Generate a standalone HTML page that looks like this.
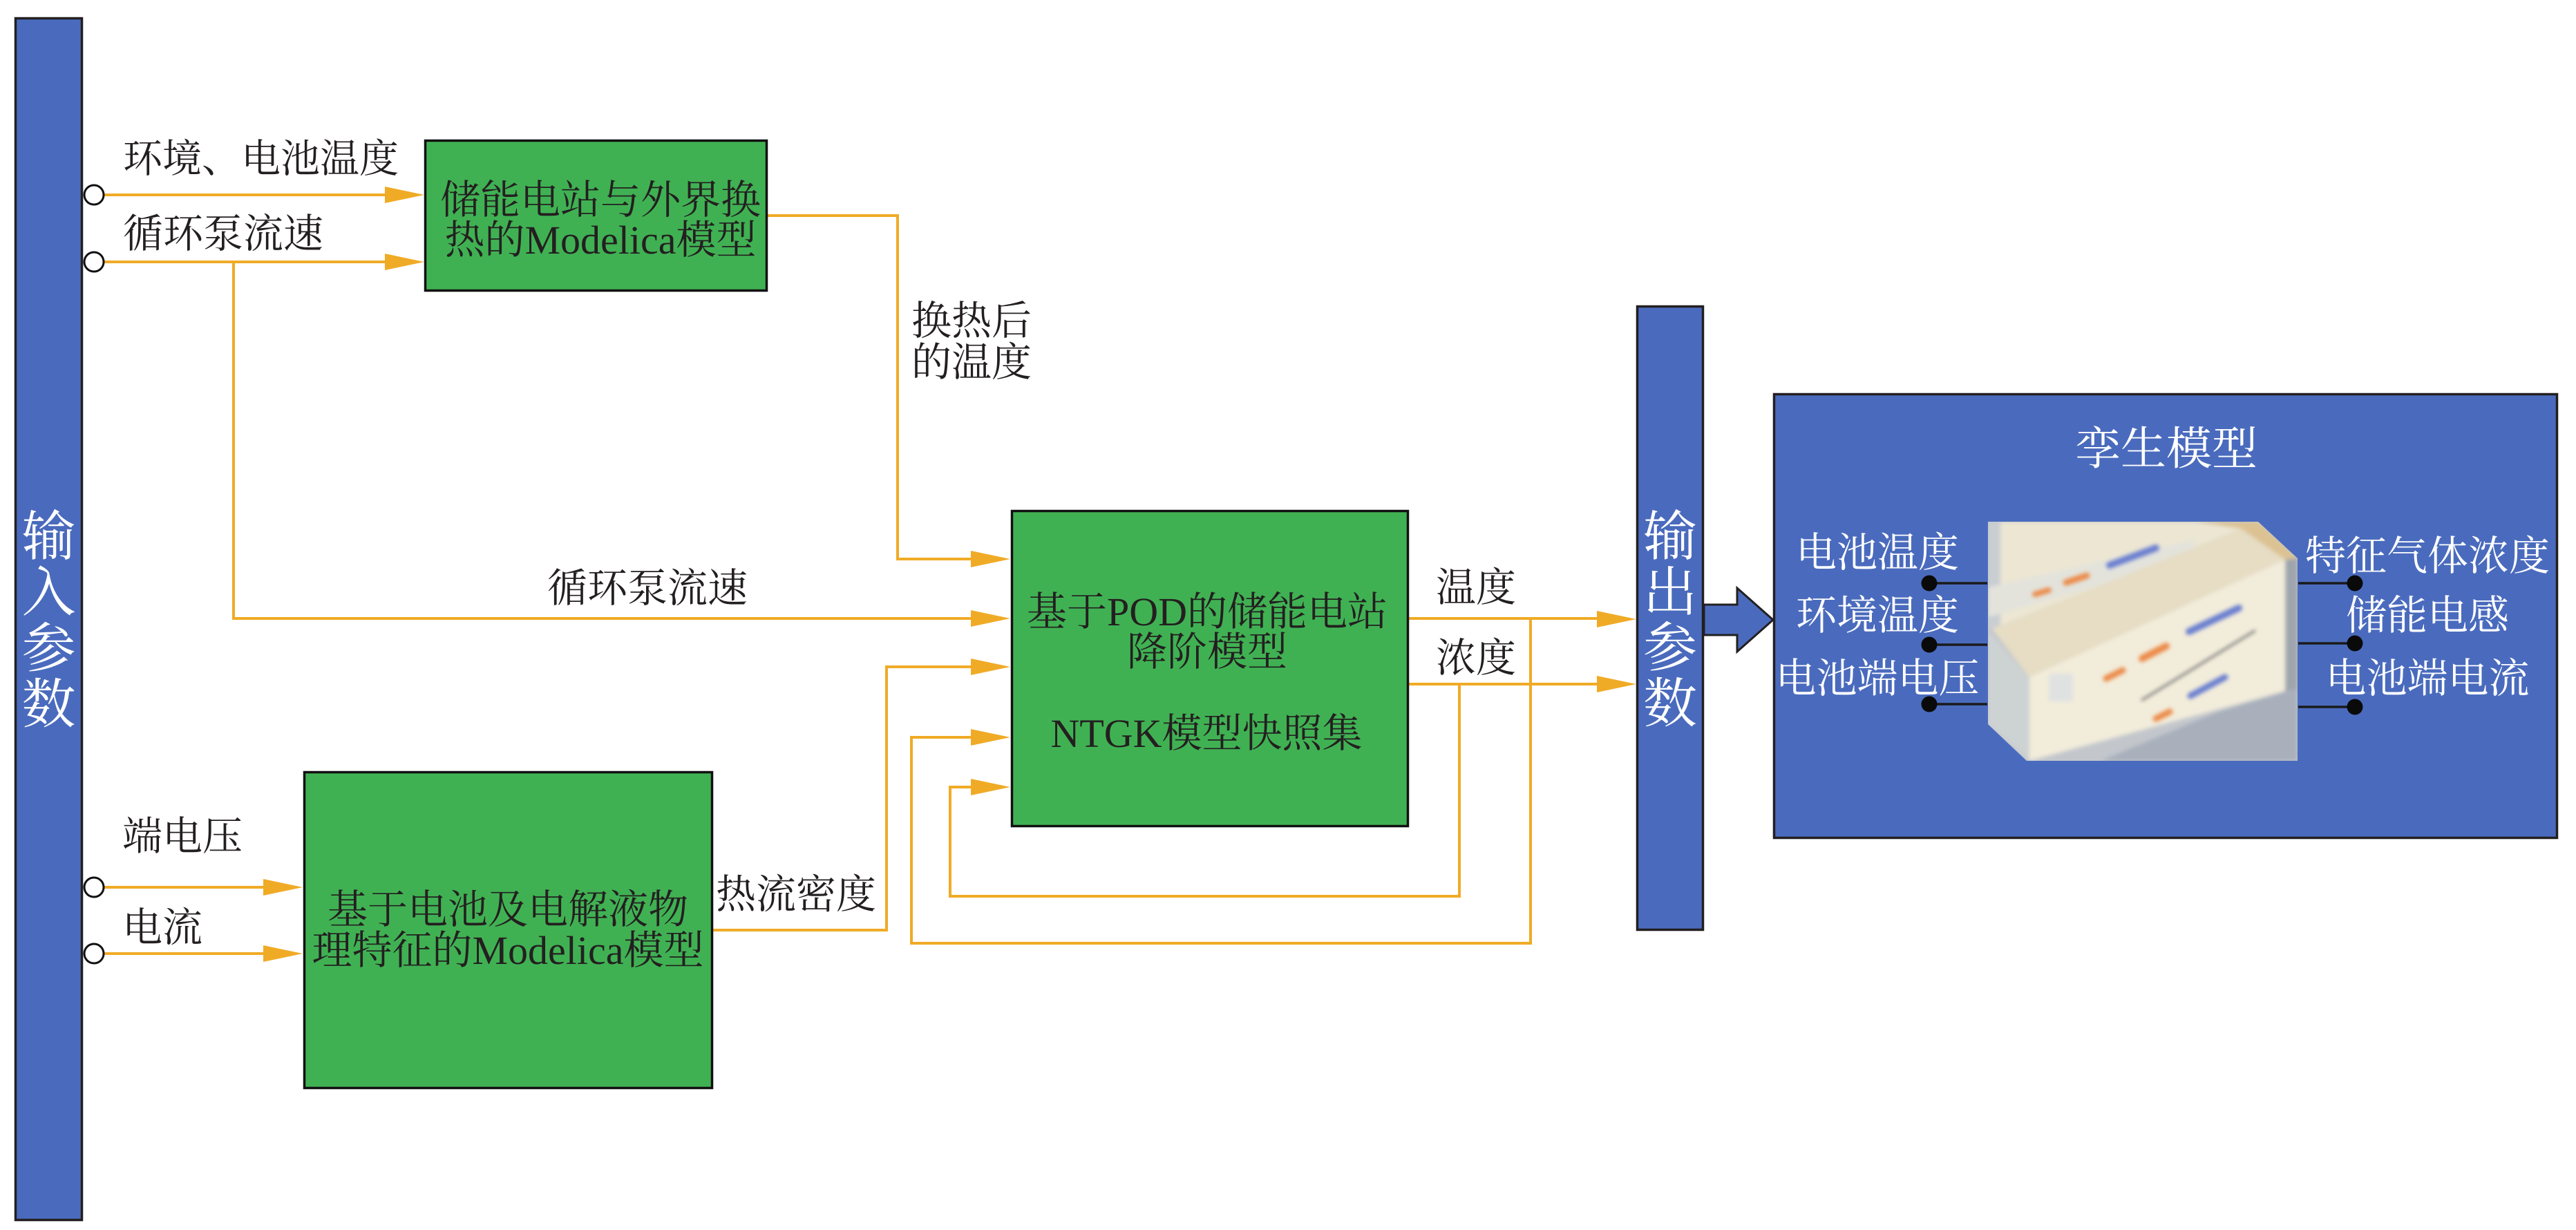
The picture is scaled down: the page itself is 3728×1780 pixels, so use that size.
<!DOCTYPE html>
<html>
<head>
<meta charset="utf-8">
<style>
html,body{margin:0;padding:0;background:#fff;}
svg{display:block;}
text{font-family:"Liberation Serif","Noto Serif CJK SC",serif;}
</style>
</head>
<body>
<svg width="3728" height="1780" viewBox="0 0 3728 1780" xmlns="http://www.w3.org/2000/svg">
<defs>
<clipPath id="pc"><polygon points="2877,755 3268,755 3325,808 3325,1101 2933,1101 2877,1048"/></clipPath>
<filter id="bl" x="-5%" y="-5%" width="110%" height="110%"><feGaussianBlur stdDeviation="3"/></filter>
</defs>
<rect width="3728" height="1780" fill="#fff"/>

<!-- Input bar -->
<rect x="22.5" y="26.5" width="96" height="1739" fill="#4A6BBD" stroke="#231F20" stroke-width="3.5"/>
<g fill="#fff" font-size="78" text-anchor="middle">
<text x="70.5" y="803">输</text>
<text x="70.5" y="884">入</text>
<text x="70.5" y="965">参</text>
<text x="70.5" y="1046">数</text>
</g>

<!-- Orange connectors -->
<g stroke="#F0AB26" stroke-width="4" fill="none">
<path d="M151 282 H560"/>
<path d="M151 379 H560"/>
<path d="M338 379 V895 H1410"/>
<path d="M1110 312 H1299 V809 H1410"/>
<path d="M1032 1346 H1283 V965 H1410"/>
<path d="M2215 895 V1365 H1319 V1067 H1410"/>
<path d="M2112 990 V1297 H1375 V1139 H1410"/>
<path d="M2039 895 H2315"/>
<path d="M2039 990 H2315"/>
<path d="M151 1284 H385"/>
<path d="M151 1380 H385"/>
</g>
<g fill="#F0AB26">
<polygon points="614,282 557,270 557,294"/>
<polygon points="614,379 557,367 557,391"/>
<polygon points="1462,809 1405,797 1405,821"/>
<polygon points="1462,895 1405,883 1405,907"/>
<polygon points="1462,965 1405,953 1405,977"/>
<polygon points="1462,1067 1405,1055 1405,1079"/>
<polygon points="1462,1139 1405,1127 1405,1151"/>
<polygon points="2368,896 2311,884 2311,908"/>
<polygon points="2368,990 2311,978 2311,1002"/>
<polygon points="438,1284 381,1272 381,1296"/>
<polygon points="438,1380 381,1368 381,1392"/>
</g>

<!-- input circles -->
<g fill="#fff" stroke="#111" stroke-width="3">
<circle cx="136" cy="282" r="14"/>
<circle cx="136" cy="379" r="14"/>
<circle cx="136" cy="1284" r="14"/>
<circle cx="136" cy="1380" r="14"/>
</g>

<!-- Green boxes -->
<g fill="#40B153" stroke="#111" stroke-width="3.5">
<rect x="615.5" y="203.5" width="494" height="217"/>
<rect x="1464.5" y="739.5" width="573" height="456"/>
<rect x="440.5" y="1117.5" width="590" height="457"/>
</g>

<!-- Labels black -->
<g fill="#231F20" font-size="58">
<text x="178" y="249" font-size="57">环境、电池温度</text>
<text x="178" y="358">循环泵流速</text>
<text x="177" y="1230">端电压</text>
<text x="177" y="1362">电流</text>
<text x="792" y="871">循环泵流速</text>
<text x="1036" y="1314">热流密度</text>
<text x="1319" y="484">换热后</text>
<text x="1319" y="544">的温度</text>
<text x="2078" y="870">温度</text>
<text x="2078" y="972">浓度</text>
</g>
<g fill="#231F20" font-size="58" text-anchor="middle">
<text x="869" y="309">储能电站与外界换</text>
<text x="869" y="367">热的Modelica模型</text>
<text x="735" y="1336">基于电池及电解液物</text>
<text x="735" y="1395">理特征的Modelica模型</text>
<text x="1747" y="905">基于POD的储能电站</text>
<text x="1747" y="963">降阶模型</text>
<text x="1746" y="1081">NTGK模型快照集</text>
</g>

<!-- Output bar -->
<rect x="2369.5" y="443.5" width="95" height="902" fill="#4A6BBD" stroke="#231F20" stroke-width="3.5"/>
<g fill="#fff" font-size="78" text-anchor="middle">
<text x="2417" y="803">输</text>
<text x="2417" y="884">出</text>
<text x="2417" y="964">参</text>
<text x="2417" y="1045">数</text>
</g>

<!-- Block arrow -->
<polygon points="2466,875 2514,875 2514,851 2566,897 2514,943 2514,919 2466,919" fill="#4A6BBD" stroke="#231F20" stroke-width="3"/>

<!-- Twin model box -->
<rect x="2567.5" y="570.5" width="1133" height="642" fill="#4A6BBD" stroke="#231F20" stroke-width="3.5"/>
<text x="3135" y="672" font-size="66" fill="#fff" text-anchor="middle">孪生模型</text>

<!-- Photo approximation -->
<g clip-path="url(#pc)">
<rect x="2877" y="755" width="448" height="346" fill="#C3C7CC"/>
<g filter="url(#bl)">
<polygon points="2877,755 3178,755 3243,765 2883,910 2877,913" fill="#ECE6D3"/>
<polygon points="2877,755 2895,755 2895,905 2877,913" fill="#C9CED3"/>
<polygon points="3178,755 3268,755 3325,808 3307,810 3243,765" fill="#DCC293"/>
<polygon points="2877,850 3175,782 3178,808 2877,893" fill="#E3E3DC"/>
<polygon points="2883,910 3243,765 3307,810 2937,980" fill="#E6DDC4"/>
<polygon points="2937,980 3307,810 3307,1000 2937,1101" fill="#F2ECDA"/>
<polygon points="2877,913 2937,980 2937,1101 2877,1048" fill="#CDD2D3"/>
<polygon points="3040,1101 3210,1030 3325,995 3325,1101" fill="#A9B0BC"/>
<polygon points="3307,810 3325,808 3325,997 3307,1000" fill="#9EA5AE"/>
</g>
<g filter="url(#bl)" stroke-linecap="round">
<line x1="3100" y1="1013" x2="3263" y2="913" stroke="#6E7072" stroke-width="3"/>
<line x1="3168" y1="914" x2="3240" y2="880" stroke="#6A7FD0" stroke-width="10"/>
<line x1="3170" y1="1007" x2="3220" y2="980" stroke="#6A7FD0" stroke-width="9"/>
<line x1="3053" y1="818" x2="3120" y2="793" stroke="#6A7FD0" stroke-width="10"/>
<line x1="3100" y1="953" x2="3135" y2="935" stroke="#EC8A4A" stroke-width="10"/>
<line x1="3048" y1="982" x2="3072" y2="970" stroke="#EC8A4A" stroke-width="9"/>
<line x1="3120" y1="1040" x2="3140" y2="1030" stroke="#EC8A4A" stroke-width="9"/>
<line x1="2990" y1="843" x2="3020" y2="833" stroke="#EC8A4A" stroke-width="9"/>
<line x1="2945" y1="860" x2="2965" y2="854" stroke="#EC8A4A" stroke-width="8"/>
<rect x="2965" y="975" width="35" height="40" fill="#E0E2E2"/>
</g>
</g>

<!-- Twin labels and pins -->
<g fill="#fff" font-size="59" text-anchor="middle">
<text x="2717" y="820">电池温度</text>
<text x="2717" y="911">环境温度</text>
<text x="2717" y="1002">电池端电压</text>
<text x="3513" y="825">特征气体浓度</text>
<text x="3513" y="911">储能电感</text>
<text x="3513" y="1002">电池端电流</text>
</g>
<g stroke="#1a1a1a" stroke-width="3.5">
<line x1="2792" y1="844" x2="2876" y2="844"/>
<line x1="2792" y1="933" x2="2876" y2="933"/>
<line x1="2792" y1="1019" x2="2876" y2="1019"/>
<line x1="3326" y1="844" x2="3408" y2="844"/>
<line x1="3326" y1="931" x2="3408" y2="931"/>
<line x1="3326" y1="1023" x2="3408" y2="1023"/>
</g>
<g fill="#0a0a0a">
<circle cx="2792" cy="844" r="11.5"/>
<circle cx="2792" cy="933" r="11.5"/>
<circle cx="2792" cy="1019" r="11.5"/>
<circle cx="3408" cy="844" r="11.5"/>
<circle cx="3408" cy="931" r="11.5"/>
<circle cx="3408" cy="1023" r="11.5"/>
</g>
</svg>
</body>
</html>
